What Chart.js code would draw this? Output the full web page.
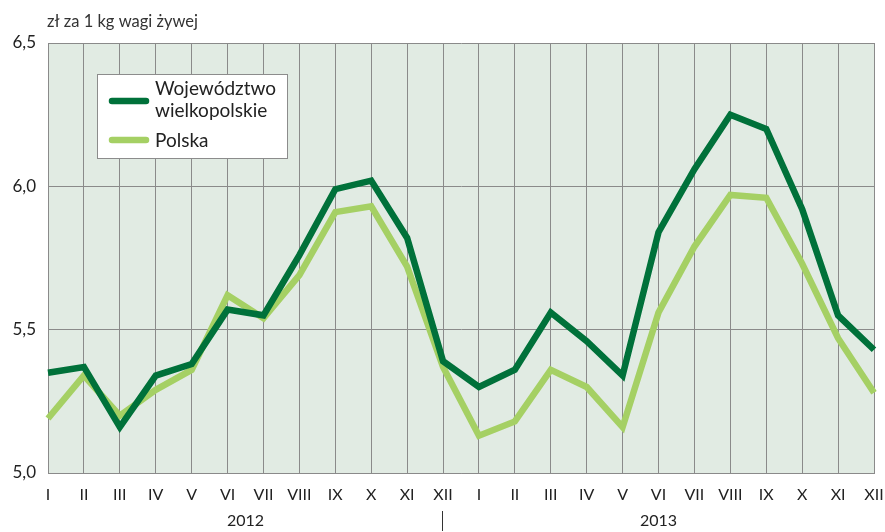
<!DOCTYPE html>
<html>
<head>
<meta charset="utf-8">
<script src="https://cdn.jsdelivr.net/npm/chart.js@4.4.1/dist/chart.umd.min.js"></script>
<style>
  html, body { margin: 0; padding: 0; background: #ffffff; }
  #wrap { position: relative; width: 885px; height: 532px; }
  canvas { display: block; }
</style>
</head>
<body>
<div id="wrap"><canvas id="c" width="885" height="532"></canvas></div>
<script>
const months = ['I','II','III','IV','V','VI','VII','VIII','IX','X','XI','XII'];
const categories = months.concat(months);
const years = ['2012', '2013'];
const unitLabel = 'zł za 1 kg wagi żywej';
const yTicks = [5.0, 5.5, 6.0, 6.5];

const wielkopolskie = [5.35, 5.37, 5.16, 5.34, 5.38, 5.57, 5.55, 5.76, 5.99, 6.02, 5.82, 5.39,
                       5.30, 5.36, 5.56, 5.46, 5.34, 5.84, 6.06, 6.25, 6.20, 5.92, 5.55, 5.43];
const polska = [5.19, 5.34, 5.20, 5.29, 5.36, 5.62, 5.54, 5.69, 5.91, 5.93, 5.72, 5.37,
                5.13, 5.18, 5.36, 5.30, 5.16, 5.56, 5.79, 5.97, 5.96, 5.73, 5.47, 5.28];

const seriesLabels = [['Województwo', 'wielkopolskie'], ['Polska']];
const DARK = '#00713a';
const LIGHT = '#a5d064';
const FONT = 'Lato, "Open Sans", sans-serif';

const bgPlugin = {
  id: 'bg',
  beforeDraw(chart) {
    const {ctx, chartArea: a} = chart;
    ctx.save();
    ctx.fillStyle = '#e1ebe3';
    ctx.fillRect(a.left, a.top, a.right - a.left, a.bottom - a.top);
    ctx.restore();
  }
};

const extrasPlugin = {
  id: 'extras',
  afterDraw(chart) {
    const {ctx} = chart;
    const x = chart.scales.x;
    ctx.save();
    ctx.fillStyle = '#333333';
    ctx.font = '16.5px ' + FONT;
    ctx.textAlign = 'left';
    ctx.textBaseline = 'middle';
    ctx.fillText(unitLabel, 47, 22);
    const x0 = x.getPixelForValue(0);
    const x11 = x.getPixelForValue(11);
    const x23 = x.getPixelForValue(23);
    ctx.textAlign = 'center';
    ctx.font = '16px ' + FONT;
    ctx.fillStyle = '#222222';
    ctx.fillText(years[0], (x0 + x11) / 2, 521);
    ctx.fillText(years[1], (x11 + x23) / 2, 521);
    ctx.strokeStyle = '#333333';
    ctx.lineWidth = 1;
    ctx.beginPath();
    ctx.moveTo(Math.round(x11) - 0.5, 511);
    ctx.lineTo(Math.round(x11) - 0.5, 531);
    ctx.stroke();
    const bx = 97.5, by = 74.5, bw = 190, bh = 84;
    ctx.fillStyle = '#ffffff';
    ctx.fillRect(bx, by, bw, bh);
    ctx.strokeStyle = '#8c8c8c';
    ctx.lineWidth = 1;
    ctx.strokeRect(bx, by, bw, bh);
    const ds = chart.data.datasets;
    const rows = [{ly: 101, ty: [89, 111]}, {ly: 140, ty: [141]}];
    ds.forEach((d, i) => {
      ctx.strokeStyle = d.borderColor;
      ctx.lineWidth = 6.5;
      ctx.lineCap = 'round';
      ctx.beginPath();
      ctx.moveTo(112, rows[i].ly);
      ctx.lineTo(146, rows[i].ly);
      ctx.stroke();
      ctx.fillStyle = '#222222';
      ctx.font = '19px ' + FONT;
      ctx.textAlign = 'left';
      ctx.textBaseline = 'middle';
      const lines = Array.isArray(d.label) ? d.label : [d.label];
      lines.forEach((t, k) => ctx.fillText(t, 155, rows[i].ty[k]));
    });
    ctx.restore();
  }
};

new Chart(document.getElementById('c'), {
  type: 'line',
  data: {
    labels: categories,
    datasets: [
      { label: seriesLabels[0], data: wielkopolskie, borderColor: DARK, backgroundColor: DARK,
        borderWidth: 6.5, pointRadius: 0, tension: 0, borderJoinStyle: 'miter', borderCapStyle: 'butt' },
      { label: seriesLabels[1], data: polska, borderColor: LIGHT, backgroundColor: LIGHT,
        borderWidth: 6.5, pointRadius: 0, tension: 0, borderJoinStyle: 'miter', borderCapStyle: 'butt' }
    ]
  },
  options: {
    responsive: false,
    animation: false,
    layout: { padding: { top: 43, right: 11, left: 0, bottom: 0 } },
    plugins: { legend: { display: false }, tooltip: { enabled: false } },
    scales: {
      x: {
        type: 'category',
        offset: false,
        grid: { color: '#8a8a8a', lineWidth: 1, drawTicks: false },
        border: { color: '#8a8a8a' },
        ticks: { color: '#222222', font: { family: FONT, size: 16 }, padding: 12, maxRotation: 0, autoSkip: false },
        afterFit(s) { s.height = 59; s.paddingLeft = 0; s.paddingRight = 0; }
      },
      y: {
        min: 5.0, max: 6.5,
        afterBuildTicks(s) { s.ticks = yTicks.map(v => ({value: v})); },
        grid: { color: '#8a8a8a', lineWidth: 1, drawTicks: false },
        border: { color: '#8a8a8a' },
        ticks: { color: '#222222', font: { family: FONT, size: 17 }, padding: 12,
                 callback: v => v.toFixed(1).replace('.', ',') },
        afterFit(s) { s.width = 48; s.paddingTop = 0; s.paddingBottom = 0; }
      }
    }
  },
  plugins: [bgPlugin, extrasPlugin]
});
</script>
</body>
</html>
